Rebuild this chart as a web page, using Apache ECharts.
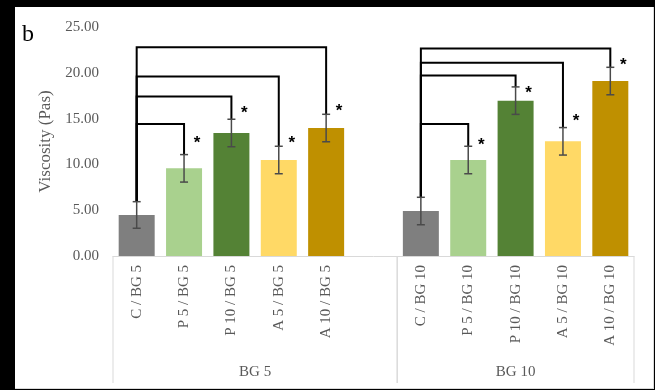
<!DOCTYPE html>
<html>
<head>
<meta charset="utf-8">
<script src="https://cdn.jsdelivr.net/npm/echarts@6/dist/echarts.min.js"></script>
<style>
  html, body { margin: 0; padding: 0; background: #000; }
  #frame { position: absolute; left: 15px; top: 7px; width: 638px; height: 381px; background: #fff; border-right: 1px solid #d9d9d9; border-bottom: 1px solid #d9d9d9; }
  #chart { position: absolute; left: 0; top: 0; width: 655px; height: 390px; }
</style>
</head>
<body>
<div id="frame"></div>
<div id="chart"></div>
<script>
// ---- data ----
const groupNames = ['BG 5', 'BG 10'];
const catsBG5 = ['C / BG 5', 'P 5 / BG 5', 'P 10 / BG 5', 'A 5 / BG 5', 'A 10 / BG 5'];
const catsBG10 = ['C / BG 10', 'P 5 / BG 10', 'P 10 / BG 10', 'A 5 / BG 10', 'A 10 / BG 10'];
const valuesBG5 = [4.48, 9.57, 13.43, 10.48, 13.97];
const valuesBG10 = [4.91, 10.48, 16.96, 12.52, 19.10];
const errorsBG5 = [1.45, 1.5, 1.5, 1.5, 1.5];
const errorsBG10 = [1.5, 1.5, 1.5, 1.5, 1.5];
// significance brackets: heights for P5, P10, A5, A10 vs control
const bracketBG5 = [14.4, 17.4, 19.6, 22.8];
const bracketBG10 = [14.4, 19.7, 21.1, 22.66];
// star heights for P5, P10, A5, A10
const starBG5 = [12.66, 15.94, 12.66, 16.16];
const starBG10 = [12.45, 18.12, 15.07, 21.18];
const yTicks = [0, 5, 10, 15, 20, 25];
const barColors = ['#7f7f7f', '#a9d18e', '#548235', '#ffd966', '#bf9000'];

// ---- build ----
const categories = [...catsBG5, '', ...catsBG10];
const offBG10 = catsBG5.length + 1;
const barData = [];
valuesBG5.forEach((v, i) => barData.push({ value: v, itemStyle: { color: barColors[i] } }));
barData.push('-');
valuesBG10.forEach((v, i) => barData.push({ value: v, itemStyle: { color: barColors[i] } }));

const errData = [];
valuesBG5.forEach((v, i) => errData.push([i, v, errorsBG5[i]]));
valuesBG10.forEach((v, i) => errData.push([offBG10 + i, v, errorsBG10[i]]));

const bracketData = [];
bracketBG5.forEach((h, k) => bracketData.push([0, k + 1, h, valuesBG5[0] + errorsBG5[0], valuesBG5[k + 1] + errorsBG5[k + 1]]));
bracketBG10.forEach((h, k) => bracketData.push([offBG10, offBG10 + k + 1, h, valuesBG10[0] + errorsBG10[0], valuesBG10[k + 1] + errorsBG10[k + 1]]));

const starData = [];
starBG5.forEach((h, k) => starData.push([k + 1, h]));
starBG10.forEach((h, k) => starData.push([offBG10 + k + 1, h]));

const groupData = [[0, catsBG5.length], [offBG10, offBG10 + catsBG10.length - 1]];

const serif = '"Liberation Serif", "DejaVu Serif", serif';

const chart = echarts.init(document.getElementById('chart'), null, { renderer: 'canvas' });
chart.setOption({
  backgroundColor: 'transparent',
  animation: false,
  graphic: [{
    type: 'text', left: 22, top: 23,
    style: { text: 'b', font: '24px ' + serif, fill: '#000' }
  }],
  grid: { left: 113, right: 21, top: 27, bottom: 134 },
  xAxis: {
    type: 'category',
    data: categories,
    axisLine: { lineStyle: { color: '#d9d9d9', width: 1 } },
    axisTick: { show: false },
    axisLabel: { rotate: 90, interval: 0, margin: 9, color: '#595959', fontFamily: serif, fontSize: 15 },
    splitLine: { show: false }
  },
  yAxis: {
    type: 'value', min: yTicks[0], max: yTicks[yTicks.length - 1], interval: 5,
    name: 'Viscosity (Pas)', nameLocation: 'middle', nameGap: 55,
    nameTextStyle: { color: '#595959', fontFamily: serif, fontSize: 17 },
    axisLine: { show: false }, axisTick: { show: false }, splitLine: { show: false },
    axisLabel: { margin: 14, color: '#595959', fontFamily: serif, fontSize: 15, formatter: v => v.toFixed(2) }
  },
  series: [
    { type: 'bar', data: barData, barCategoryGap: '24%', z: 2 },
    {
      type: 'custom', z: 4, data: errData,
      renderItem: (params, api) => {
        const x = api.value(0), v = api.value(1), e = api.value(2);
        const top = api.coord([x, v + e]), bot = api.coord([x, v - e]);
        const c = 4;
        const st = { stroke: '#4a4a4a', lineWidth: 1.5 };
        return { type: 'group', children: [
          { type: 'line', shape: { x1: top[0], y1: top[1], x2: bot[0], y2: bot[1] }, style: st },
          { type: 'line', shape: { x1: top[0] - c, y1: top[1], x2: top[0] + c, y2: top[1] }, style: st },
          { type: 'line', shape: { x1: bot[0] - c, y1: bot[1], x2: bot[0] + c, y2: bot[1] }, style: st }
        ]};
      }
    },
    {
      type: 'custom', z: 3, data: bracketData,
      renderItem: (params, api) => {
        const c = api.value(0), t = api.value(1), h = api.value(2), cTop = api.value(3), tTop = api.value(4);
        const p0 = api.coord([c, cTop]), p1 = api.coord([c, h]), p2 = api.coord([t, h]), p3 = api.coord([t, tTop]);
        return { type: 'polyline', shape: { points: [p0, p1, p2, p3] }, style: { stroke: '#000', lineWidth: 2, fill: null } };
      }
    },
    {
      type: 'custom', z: 5, data: starData,
      renderItem: (params, api) => {
        const p = api.coord([api.value(0), api.value(1)]);
        return { type: 'text', x: p[0] + 13, y: p[1] + 3, style: { text: '*', font: 'bold 17px "Liberation Sans", sans-serif', fill: '#000', align: 'center', verticalAlign: 'middle' } };
      }
    },
    {
      type: 'custom', z: 5, data: groupData, clip: false,
      renderItem: (params, api) => {
        const a = api.value(0), b = api.value(1);
        const bw = api.size([1, 0])[0];
        const base = api.coord([a, 0])[1];
        const xl = api.coord([a, 0])[0] - bw / 2;
        const xr = api.coord([b, 0])[0] + bw / 2;
        const st = { stroke: '#d9d9d9', lineWidth: 1 };
        return { type: 'group', children: [
          { type: 'line', shape: { x1: xl, y1: base, x2: xl, y2: base + 127 }, style: st },
          { type: 'line', shape: { x1: xr, y1: base, x2: xr, y2: base + 127 }, style: st },
          { type: 'text', x: (xl + xr) / 2, y: base + 116, style: { text: groupNames[params.dataIndex], font: '15px ' + serif, fill: '#595959', align: 'center', verticalAlign: 'middle' } }
        ]};
      }
    }
  ]
});
</script>
</body>
</html>
